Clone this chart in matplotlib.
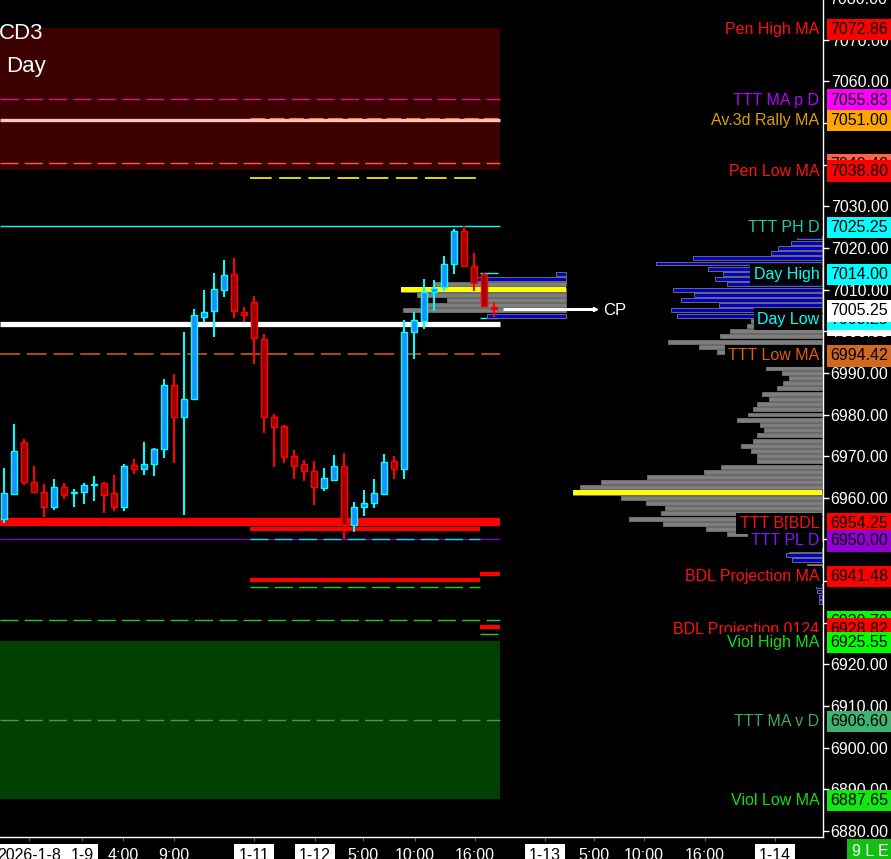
import numpy as np
import matplotlib

matplotlib.use("Agg")
import matplotlib.pyplot as plt
from matplotlib.transforms import blended_transform_factory

plt.rcParams["font.family"] = ["Liberation Sans", "DejaVu Sans"]

########## DATA ########
# 15 min candles, one per slot
opens = [6955.0, 6960.9, 6973.4, 6963.8, 6961.4, 6957.8, 6962.6, 6961.1, 6961.4, 6963.0,
         6963.6, 6961.2, 6957.8, 6967.9, 6966.9, 6968.1, 6971.7, 6987.1, 6979.4, 6983.7,
         7003.4, 7004.9, 7009.9, 7013.7, 7004.6, 7007.0, 6998.1, 6979.4, 6977.3, 6970.0,
         6968.1, 6966.4, 6962.4, 6964.3, 6967.6, 6953.5, 6957.8, 6958.8, 6960.9, 6968.8,
         6966.9, 6999.8, 7002.4, 7009.4, 7010.6, 7016.1, 7024.1, 7015.7, 7013.7, 7005.8]
highs = [6967.2, 6977.7, 6974.1, 6967.6, 6963.3, 6964.5, 6963.6, 6962.1, 6963.6, 6965.2,
         6963.8, 6965.5, 6968.1, 6969.3, 6973.4, 6972.0, 6988.5, 6989.7, 6999.8, 7005.3,
         7009.9, 7014.0, 7017.1, 7017.6, 7005.8, 7008.5, 6999.3, 6980.1, 6977.5, 6971.5,
         6969.1, 6968.8, 6967.2, 6970.3, 6970.8, 6959.0, 6961.9, 6964.5, 6970.5, 6970.0,
         7002.7, 7004.6, 7012.5, 7012.3, 7018.1, 7024.5, 7025.25, 7018.8, 7014.0, 7007.0]
lows = [6954.0, 6960.8, 6963.1, 6961.2, 6955.4, 6957.1, 6959.7, 6957.8, 6958.5, 6959.2,
        6956.4, 6956.8, 6956.8, 6965.7, 6965.5, 6965.2, 6969.6, 6968.4, 6955.9, 6983.5,
        7002.2, 6998.6, 7008.2, 7003.2, 7002.2, 6992.1, 6975.6, 6967.4, 6968.4, 6964.5,
        6964.0, 6958.3, 6961.6, 6964.0, 6950.1, 6951.8, 6955.6, 6957.6, 6960.7, 6964.5,
        6964.5, 6993.3, 7000.5, 7004.9, 7009.7, 7013.7, 7015.6, 7009.7, 7005.8, 7003.4]
closes = [6961.2, 6971.2, 6963.8, 6961.4, 6957.8, 6962.6, 6960.7, 6961.3, 6963.1, 6963.2,
          6960.7, 6957.8, 6967.6, 6966.9, 6968.1, 6971.7, 6987.1, 6979.4, 6983.7, 7003.9,
          7004.6, 7010.1, 7013.5, 7004.9, 7003.9, 6998.4, 6979.4, 6977.0, 6969.8, 6967.6,
          6966.4, 6962.6, 6964.8, 6967.6, 6953.5, 6957.8, 6958.8, 6961.2, 6968.6, 6966.9,
          6999.8, 7002.7, 7009.4, 7010.4, 7016.1, 7024.1, 7015.7, 7011.6, 7006.1, 7005.25]

# volume profile (right side), levels from top, 1.25 pt bins
prof_top = 7022.5
prof_step = 1.25
prof_vol = [25, 31, 44, 51, 129, 166, 114, 99, 107, 95, 149, 128, 141, 103, 151, 145,
            71, 75, 92, 102, 154, 123, 105, 92, 60, 56, 40, 33, 39, 45, 60, 53, 65, 69,
            74, 85, 62, 58, 65, 69, 81, 71, 65, 65, 101, 118, 175, 221, 242, 249, 201,
            176, 157, 161, 193, 159, 116, 95, 68]
low_prof_lvl = [6947.5, 6946.25, 6945.0, 6943.75, 6938.75, 6937.5, 6936.25, 6935.0]
low_prof_vol = [33, 36, 30, 15, 6, 5, 3, 3]
# today's small profile
mini_lvl = [7013.75, 7012.5, 7011.25, 7010.0, 7008.75, 7007.5, 7006.25, 7005.0, 7003.75]
mini_vol = [10, 89, 133, 165, 149, 119, 144, 163, 79]

# right side labels: name, value, name colour, box colour (draw order)
labels = [
    ("Pen High MA", 7072.86, "#ff1010", "#ff0000"),
    ("TTT MA p D", 7055.83, "#b400ff", "#ff00ff"),
    ("Av.3d Rally MA", 7051.00, "#d8a000", "#ffa500"),
    ("", 7040.40, "#ff5a40", "#ff6347"),
    ("Pen Low MA", 7038.80, "#ff1010", "#ff0000"),
    ("TTT PH D", 7025.25, "#20c8a8", "#00ffff"),
    ("Day High", 7014.00, "#00ffff", "#00ffff"),
    ("", 7001.75, "#ffffff", "#ffffff"),
    ("Day Low", 7003.25, "#00ffff", "#00ffff"),
    ("TTT Low MA", 6994.42, "#e0600a", "#d2691e"),
    ("TTT B[BDL", 6954.25, "#ff1010", "#ff0000"),
    ("TTT PL D", 6950.00, "#8a10ff", "#9400d3"),
    ("BDL Projection MA", 6941.48, "#ff1010", "#ff0000"),
    ("", 6930.70, "#00ff00", "#00ff00"),
    ("BDL Projection 0124", 6928.82, "#ff1010", "#ff0000"),
    ("Viol High MA", 6925.55, "#10e010", "#00ff00"),
    ("TTT MA v D", 6906.60, "#40a860", "#3cb371"),
    ("Viol Low MA", 6887.65, "#10e010", "#10e810"),
]
cp_value = 7005.25

tick_pos = [2.55, 7.8, 11.9, 17, 25, 31.1, 35.9, 41.1, 47.1, 54.1, 59, 64, 70.1, 77.1]
tick_lab = ["2026-1-8", "1-9", "4:00", "9:00", "1-11", "1-12", "5:00", "10:00", "16:00",
            "1-13", "5:00", "10:00", "16:00", "1-14"]
###### END DATA ########

fig = plt.figure(figsize=(8.91, 8.59), dpi=100, facecolor="black")
ax = fig.add_axes([0, 22 / 859, 823 / 891, 837 / 859])
ax.set_facecolor("black")
ax.set_xlim(-0.4, 81.9)
ax.set_ylim(6878.56, 7079.52)

x_left, x_mid, x_end, x_seg = -0.4, 24.6, 49.6, 47.6

# bands
ax.fill_between([x_left, x_end], 7038.80, 7072.86, color="#3c0000", lw=0, zorder=0)
ax.fill_between([x_left, x_end], 6887.65, 6925.55, color="#004000", lw=0, zorder=0)

dash = (0, (13, 4.5))
ax.hlines(7055.83, x_left, x_end, colors="#e0109a", lw=1, linestyles=dash)
ax.hlines(7050.8, x_left, x_end, colors="#ffc0c0", lw=2.4)
ax.hlines(7051.3, x_mid, x_end, colors="#ff8020", lw=0.8, linestyles=dash)
ax.hlines(7040.40, x_left, x_end, colors="#ff5a40", lw=1, linestyles=dash)
ax.hlines(7036.8, x_mid, x_seg, colors="#ffff00", lw=1.2, linestyles=dash)
ax.hlines(7025.25, x_left, x_end, colors="#00ffff", lw=1)
ax.hlines(7001.75, x_left, x_end, colors="white", lw=3.8)
ax.hlines(6994.42, x_left, x_end, colors="#e0600a", lw=1.1, linestyles=dash)
ax.hlines(6954.25, x_left, x_end, colors="#ff0000", lw=6)
ax.hlines(6952.6, x_mid, x_seg, colors="#ff0000", lw=3)
ax.hlines(6950.0, x_left, x_end, colors="#8000c0", lw=1)
ax.hlines(6950.0, x_mid, x_seg, colors="#00e0e0", lw=1, linestyles=dash)
ax.hlines(6940.3, x_mid, x_seg, colors="#ff0000", lw=3)
ax.hlines(6941.6, x_seg, x_end, colors="#ff0000", lw=3)
ax.hlines(6938.6, x_mid, x_seg, colors="#20d020", lw=1, linestyles=dash)
ax.hlines(6930.7, x_left, x_end, colors="#20d020", lw=1, linestyles=dash)
ax.hlines(6929.0, x_seg, x_end, colors="#ff0000", lw=3)
ax.hlines(6927.2, x_seg, 49.4, colors="#20d020", lw=1)
ax.hlines(6906.60, x_left, x_end, colors="#40a040", lw=1, linestyles=dash)
ax.hlines([7014.0, 7003.25], x_seg, 49.4, colors="#00ffff", lw=1)

# candles
idx = np.arange(len(opens))
o, h, l, c = map(np.array, (opens, highs, lows, closes))
bull = c >= o
for mask, wick, face, edge in [(bull, "#00ffff", "#1e90ff", "#00ffff"),
                               (~bull, "#ff0000", "#9e0000", "#ff0000")]:
    ax.vlines(idx[mask], l[mask], h[mask], colors=wick, lw=1.5, zorder=3)
    body = np.maximum(np.abs(c - o)[mask], 0.15)
    ax.bar(idx[mask], body, bottom=np.minimum(o, c)[mask], width=0.55,
           color=face, edgecolor=edge, lw=1, zorder=4)

# main volume profile
prof_lvl = prof_top - prof_step * np.arange(len(prof_vol))
pv = np.array(prof_vol) / 10.0
right_edge = 81.8
poc = int(np.argmax(pv))
cols = np.where(prof_lvl > 7003, "#0000c8", "#7e7e7e")
ax.barh(prof_lvl, pv, left=right_edge - pv, height=0.95, color=cols,
        edgecolor="#6c6c6c", lw=0.7, zorder=2)
ax.barh(prof_lvl[poc], pv[poc], left=right_edge - pv[poc], height=1.2,
        color="#ffff00", lw=0, zorder=2.2)
lv = np.array(low_prof_vol) / 10.0
lcols = ["#0000c8" if v != 15 else "#7e7e7e" for v in low_prof_vol]
ax.barh(low_prof_lvl, lv, left=right_edge - lv, height=0.95, color=lcols,
        edgecolor="#6c6c6c", lw=0.7, zorder=2)

# mini profile
mv = np.array(mini_vol) / 10.0
mini_edge = 56.2
mpoc = int(np.argmax(mv))
mcols = ["#0000c8" if i in (0, 1, len(mv) - 1) else "#7e7e7e" for i in range(len(mv))]
ax.barh(mini_lvl, mv, left=mini_edge - mv, height=0.95, color=mcols,
        edgecolor="#6c6c6c", lw=0.7, zorder=2)
ax.barh(mini_lvl[mpoc], mv[mpoc], left=mini_edge - mv[mpoc], height=1.2,
        color="#ffff00", lw=0, zorder=2.2)

# current price marker
ax.hlines(cp_value, 49.9, 59.0, colors="white", lw=2.2, zorder=5)
ax.plot([59.1], [cp_value], marker=">", color="white", ms=3, zorder=5)
ax.text(59.9, cp_value, "CP", color="white", fontsize=12, va="center_baseline", ha="left")

# right labels
trans = blended_transform_factory(ax.transAxes, ax.transData)
box_pad = dict(boxstyle="square,pad=0.2", ec="none")
for name, val, ncol, bcol in labels:
    if name:
        ax.text(0.9955, val, name, transform=trans, ha="right", va="center_baseline",
                color=ncol, fontsize=11.5, bbox=dict(fc="black", **box_pad), zorder=6)
    ax.text(1.0085, val, f"{val:.2f}", transform=trans, ha="left", va="center_baseline",
            color="black", fontsize=11.5, bbox=dict(fc=bcol, **box_pad), zorder=6)
ax.text(1.0085, cp_value, f"{cp_value:.2f}", transform=trans, ha="left",
        va="center_baseline", color="black", fontsize=11.5,
        bbox=dict(fc="white", **box_pad), zorder=7)
ax.text(1.0075, 7080, "7080.00", transform=trans, ha="left", va="center_baseline",
        color="white", fontsize=11.5)

# axes styling
ax.yaxis.tick_right()
ax.set_yticks(np.arange(6880, 7080, 10))
ax.yaxis.set_major_formatter(matplotlib.ticker.FormatStrFormatter("%.2f"))
ax.tick_params(axis="y", length=4, width=1, pad=1.5, labelsize=11.5,
               colors="white", labelcolor="white")
ax.set_xticks(tick_pos)
ax.set_xticklabels(tick_lab)
ax.tick_params(axis="x", length=3, width=0.8, pad=5, labelsize=11.5,
               colors="#606060", labelcolor="white")
for lab in ax.get_xticklabels():
    if "-" in lab.get_text():
        lab.set_color("black")
        lab.set_bbox(dict(fc="white", ec="none", pad=3))
for side in ["left", "top"]:
    ax.spines[side].set_visible(False)
for side in ["right", "bottom"]:
    ax.spines[side].set_color("white")
    ax.spines[side].set_linewidth(1)

# clipped chart titles top left
fig.text(-1 / 891, 1 - 39 / 859, "CD3", color="#f0ffff", fontsize=16, va="baseline")
fig.text(6 / 891, 1 - 72 / 859, "Day", color="#f0ffff", fontsize=16, va="baseline")
fig.text(870 / 891, 1 - 851 / 859, "9 L E", color="white", fontsize=11.5,
         ha="center", va="center",
         bbox=dict(fc="#10c010", ec="none", boxstyle="square,pad=0.3"))

plt.savefig("out.png", dpi=100, facecolor="black")
